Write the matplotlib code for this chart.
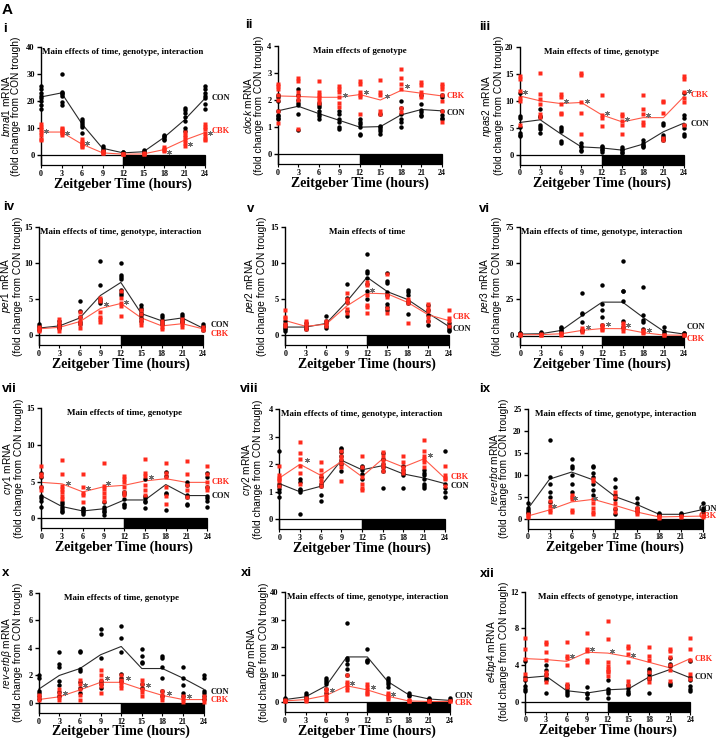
import matplotlib
matplotlib.use("Agg")
import matplotlib.pyplot as plt
from matplotlib.patches import Rectangle

plt.rcParams['mathtext.fontset'] = 'custom'
plt.rcParams['mathtext.rm'] = 'Liberation Sans'
plt.rcParams['mathtext.it'] = 'Liberation Sans:italic'

ZT = [0, 3, 6, 9, 12, 15, 18, 21, 24]
XLABEL = "Zeitgeber Time (hours)"

# ---------------- data ----------------
BMAL1_CON = [[25.5, 24.5, 23, 22, 21, 20, 18.5, 17], [30, 23.5, 23, 22.5, 22, 19.5, 18.5],
             [13.5, 12.5, 12, 11, 10.5, 8], [3.5, 2.5, 2, 1.5, 1.2], [1.2, 1, 0.8, 0.6],
             [1.8, 1.4, 1.1, 0.9], [7.5, 7, 6.5, 6, 5.5], [17.5, 16.5, 15.5, 14, 12.5, 10, 9],
             [25.5, 24.5, 23, 22, 21, 19, 17]]
BMAL1_CBK = [[11.5, 10.5, 9.5, 8.5, 7.5, 6, 5.5], [10, 9.5, 9, 8.5, 8, 7.5], [6, 5, 4.5, 4, 3.5, 3],
             [1.5, 1.1, 0.8, 0.6], [0.5, 0.3, 0.2], [0.6, 0.4, 0.3], [2.8, 2.2, 1.8, 1.5],
             [8.5, 7.5, 6.5, 5.5, 4.5, 3.5], [11.5, 10.5, 9.5, 8, 7, 6, 5.5]]
BMAL1_CON_MEAN = [21.5, 23, 11.5, 2.5, 0.8, 1.2, 6.5, 13, 21]
BMAL1_CBK_MEAN = [8.5, 8.5, 4, 0.8, 0.3, 0.4, 2, 5.5, 8.3]
BMAL1_SIG = ([0.7, 3.8, 6.8, 18.8, 21.8, 24.7], [8.8, 8.2, 4.3, 1.2, 4.2, 8.0])

CLOCK_CON = [[2.2, 2.1, 1.95, 1.6, 1.45, 1.4, 1.35, 1.3], [2.4, 2.2, 2.0, 1.9, 1.8, 1.5, 0.9],
             [1.9, 1.8, 1.75, 1.6, 1.5, 1.4, 1.3], [1.6, 1.5, 1.3, 1.2, 1.0, 0.95],
             [1.3, 1.2, 1.1, 1.0, 0.75, 0.7], [1.5, 1.05, 1.0, 0.95, 0.85, 0.75],
             [1.95, 1.7, 1.5, 1.3, 1.2, 1.0], [2.2, 1.85, 1.65, 1.55, 1.45, 1.4],
             [2.2, 2.1, 1.6, 1.45, 1.35, 1.3]]
CLOCK_CBK = [[2.6, 2.5, 2.4, 2.2, 2.0, 1.6, 1.15], [2.8, 2.7, 2.3, 2.15, 2.0, 0.95],
             [2.7, 2.3, 2.2, 2.1, 2.0, 1.9], [2.5, 2.4, 2.3, 2.1, 1.9, 1.75],
             [2.7, 2.6, 2.3, 2.2, 2.1, 1.5], [2.75, 2.3, 2.2, 1.6, 1.5],
             [3.15, 2.8, 2.6, 2.4, 1.7, 1.55], [2.65, 2.55, 2.3, 2.2, 2.1],
             [2.6, 2.5, 2.4, 2.2, 1.95, 1.6, 1.2]]
CLOCK_CON_MEAN = [1.6, 1.77, 1.5, 1.25, 1.0, 1.02, 1.45, 1.65, 1.6]
CLOCK_CBK_MEAN = [2.15, 2.13, 2.1, 2.1, 2.2, 2.0, 2.35, 2.25, 2.15]
CLOCK_SIG = ([9.9, 12.9, 15.9, 18.9], [2.2, 2.3, 2.15, 2.5])

NPAS2_CON = [[11.5, 7.2, 6.8, 5.2, 4.0, 3.7, 3.5], [8.5, 7.2, 7.0, 5.5, 5.2, 4.8, 4.0],
             [5.2, 4.8, 4.5, 2.5, 2.3], [2.2, 1.7, 1.5, 1.0, 0.8], [1.7, 1.5, 1.2, 0.9, 0.6],
             [1.5, 1.2, 0.9, 0.6, 0.4], [2.7, 2.2, 1.9, 1.6, 1.4], [5.9, 5.5, 3.7, 3.4, 3.0, 2.8],
             [11.5, 7.3, 6.8, 5.5, 5.0, 3.9, 3.5]]
NPAS2_CBK = [[14.5, 14, 11.8, 10.5, 10, 5.5], [15.2, 11.3, 10.3, 9.5, 7.5, 7],
             [11.3, 10.8, 9.5, 7.8, 7.5], [15.2, 14.8, 9.7, 7.8, 3.8], [11, 7.4, 6.8, 5.3],
             [7.6, 7.2, 6.2, 5.6, 3.9], [11, 8.5, 7.5, 6.1, 5.5], [10, 9.7, 7.8, 3.2, 2.8],
             [14.5, 14, 11.7, 10.5, 9.8, 5.5]]
NPAS2_CON_MEAN = [6.0, 6.5, 3.9, 1.5, 1.3, 0.9, 2.0, 4.3, 5.9]
NPAS2_CBK_MEAN = [10.9, 10.0, 9.5, 9.7, 7.4, 6.1, 6.9, 6.9, 10.8]
NPAS2_SIG = ([0.8, 6.8, 9.8, 12.7, 15.7, 18.8, 24.7], [11.6, 10.0, 10.0, 7.8, 6.6, 7.3, 11.9])

PER1_CON = [[1.5, 1.3, 1.1, 0.9, 0.7], [2.0, 1.6, 1.4, 1.2, 1.0], [4.8, 3.4, 2.5, 1.9, 1.5],
            [10.2, 6.9, 5.0, 4.7, 4.5], [10.0, 8.3, 8.0, 7.8, 6.2, 5.8, 5.5],
            [4.2, 3.8, 3.5, 3.1, 2.8, 2.4, 2.0], [2.8, 2.5, 2.1, 1.9, 1.6],
            [3.0, 2.6, 2.3, 2.0, 1.8], [1.5, 1.3, 1.1, 0.8]]
PER1_CBK = [[1.2, 1.0, 0.8, 0.6], [2.2, 1.8, 1.4, 1.0, 0.6], [3.2, 2.5, 2.0, 1.5, 1.0],
            [5.1, 4.7, 3.2, 2.5, 2.2, 1.9], [6.1, 5.2, 4.4, 4.0, 2.7], [3.5, 3.0, 2.2, 1.8, 1.4],
            [2.0, 1.6, 1.2, 0.9], [2.3, 1.9, 1.5, 1.1], [1.2, 0.9, 0.7]]
PER1_CON_MEAN = [1.0, 1.3, 2.4, 5.5, 7.3, 3.0, 2.0, 2.4, 1.0]
PER1_CBK_MEAN = [0.9, 1.1, 1.9, 3.7, 4.4, 2.4, 1.3, 1.6, 0.9]
PER1_SIG = ([9.8, 12.8], [4.3, 4.6])

PER2_CON = [[1.9, 1.5, 1.2, 1.0, 0.8, 0.6], [1.6, 1.3, 1.0, 0.8], [2.7, 2.0, 1.6, 1.3, 1.0],
            [7.0, 5.1, 4.6, 3.3, 2.6], [11.2, 8.8, 8.6, 7.9, 7.0, 6.1, 5.0],
            [8.6, 7.5, 7.2, 6.0, 5.6, 4.3, 3.9, 3.5], [6.2, 5.9, 5.6, 4.7, 4.4, 2.9],
            [4.1, 3.5, 2.8, 2.0, 1.4], [1.7, 1.3, 1.0, 0.7, 0.5]]
PER2_CBK = [[3.4, 2.5, 2.3, 1.5, 1.2], [2.0, 1.6, 1.2, 0.9], [1.9, 1.6, 1.3],
            [5.8, 5.0, 4.6, 3.6, 3.0], [7.3, 6.9, 5.6, 4.2, 3.9, 3.1], [8.5, 5.6, 5.2, 3.8, 3.0],
            [5.0, 4.7, 4.4, 1.7], [4.3, 3.7, 3.3, 2.5, 1.9], [3.4, 2.3, 1.9, 1.2]]
PER2_CON_MEAN = [1.1, 1.1, 1.6, 4.6, 8.0, 6.0, 4.9, 3.0, 1.2]
PER2_CBK_MEAN = [2.0, 1.2, 1.5, 4.0, 5.8, 5.7, 4.5, 2.8, 2.0]
PER2_SIG = ([12.8], [6.2])

PER3_CON = [[2.0, 1.5, 1.0, 0.7], [2.5, 2.0, 1.5], [6.0, 5.0, 4.0, 3.0, 2.0],
            [29, 15.5, 14.5, 9, 4, 3], [35, 21.5, 17.5, 13, 7], [51.5, 31, 30.5, 23.5, 10, 6],
            [33.5, 14, 10.5, 9.5, 4.5], [6, 3, 2], [2.0, 1.5, 1.0, 0.6]]
PER3_CBK = [[1.0, 0.6, 0.3], [1.0, 0.6, 0.3], [2.0, 1.2, 0.6], [5.5, 4.0, 2.5],
            [7.5, 6, 4.5, 3.5], [8.5, 7, 5, 3], [3.5, 2.5, 1.5], [0.5, 0.3], [0.3, 0.2]]
PER3_CON_MEAN = [1.0, 1.2, 3.5, 13.5, 23, 23, 12.5, 3.0, 1.0]
PER3_CBK_MEAN = [0.5, 0.6, 1.2, 3.5, 4.8, 4.7, 2.0, 0.3, 0.2]
PER3_SIG = ([9.9, 12.8, 15.8, 18.8], [5.8, 8.0, 7.5, 3.5])

CRY1_CON = [[6.2, 5.6, 4.3, 3.1, 2.8, 2.4, 1.5], [2.2, 1.9, 1.6, 1.3, 1.0, 0.8],
            [1.4, 1.2, 1.0, 0.8, 0.6], [2.2, 1.5, 1.2, 1.0, 0.8, 0.5],
            [3.6, 3.3, 2.6, 2.0, 1.8, 1.6], [5.3, 3.0, 2.7, 2.4, 2.2, 1.4],
            [6.3, 5.8, 3.5, 3.3, 1.1], [5.0, 4.5, 3.2, 2.9, 2.0, 1.8],
            [6.2, 5.6, 4.3, 3.0, 2.8, 2.3, 1.5]]
CRY1_CBK = [[7.1, 6.0, 5.8, 4.3, 3.8], [7.9, 6.0, 4.4, 4.0, 3.6, 3.1, 2.6],
            [6.0, 4.2, 3.5, 3.2, 2.2], [7.6, 4.4, 4.0, 3.4, 2.9, 2.4],
            [5.8, 5.4, 5.0, 4.2, 3.6, 3.2], [8.1, 6.2, 5.8, 4.5, 3.8, 3.2],
            [7.6, 6.2, 5.6, 4.2, 3.0, 2.0], [7.8, 6.0, 4.5, 3.9, 2.9], [7.1, 6.0, 5.0, 4.3, 3.8]]
CRY1_CON_MEAN = [3.1, 1.6, 1.0, 1.3, 2.5, 2.5, 4.6, 3.1, 3.1]
CRY1_CBK_MEAN = [4.9, 4.7, 3.6, 4.3, 4.5, 5.1, 5.4, 4.9, 4.9]
CRY1_SIG = ([3.8, 6.7, 9.6, 15.8], [4.8, 4.1, 4.8, 5.7])

CRY2_CON = [[2.5, 1.3, 1.2, 1.1, 1.0, 0.8], [1.45, 1.35, 1.1, 1.05, 1.0, 0.2],
            [1.55, 1.3, 1.2, 0.9, 0.65], [2.6, 2.55, 2.45, 2.3, 2.15, 2.0, 1.75],
            [1.95, 1.9, 1.8, 1.65, 1.45], [2.4, 2.2, 2.0, 1.9, 1.75, 1.15],
            [1.95, 1.8, 1.7, 1.6, 1.15], [1.8, 1.7, 1.6, 1.45, 1.3, 1.2, 1.15],
            [2.5, 1.3, 1.15, 1.0, 0.8]]
CRY2_CBK = [[1.95, 1.6, 1.5, 1.45, 1.4, 1.2], [2.8, 2.4, 2.2, 1.95, 1.7, 1.3],
            [2.1, 1.8, 1.6, 1.45, 1.35, 1.2], [2.5, 2.3, 2.2, 2.05, 1.9, 1.4],
            [2.3, 1.9, 1.55, 1.3, 1.15, 1.05], [2.45, 2.3, 2.15, 2.0, 1.9, 1.75],
            [2.3, 2.1, 1.9, 1.8, 1.7], [2.9, 2.5, 2.3, 2.2, 2.1, 1.9], [1.95, 1.6, 1.5, 1.45, 1.2]]
CRY2_CON_MEAN = [1.3, 1.0, 1.2, 2.15, 1.8, 1.95, 1.65, 1.5, 1.3]
CRY2_CBK_MEAN = [1.5, 2.0, 1.6, 2.1, 1.55, 2.2, 1.9, 2.2, 1.5]
CRY2_SIG = ([4.0, 21.9], [2.15, 2.35])

REVA_CON = [[3.5, 2.5, 2.0, 1.5, 1.2], [17.8, 9.5, 8.0, 6.0, 5.0, 3.8],
            [13.5, 12.0, 11.5, 10.0, 7.8, 6.0], [12.0, 11.8, 10.5, 9.5, 8.0, 6.5, 5.5],
            [9.0, 7.2, 5.5, 4.5, 2.2, 1.0], [4.8, 3.5, 2.5, 1.8], [1.2, 1.0, 0.8],
            [1.2, 1.0, 0.8], [3.5, 2.5, 2.0, 1.5]]
REVA_CBK = [[1.0, 0.6, 0.3], [4.0, 3.0, 2.0, 1.5], [5.5, 5.0, 4.5, 2.0, 1.5],
            [9.0, 8.5, 4.5, 3.5, 2.5, 1.5, 1.0], [6.0, 5.0, 3.5, 2.5, 1.5], [2.5, 2.0, 1.5, 1.0],
            [0.6, 0.4, 0.2], [0.6, 0.4], [0.8, 0.5]]
REVA_CON_MEAN = [2.2, 9.0, 10.6, 8.8, 5.0, 3.2, 1.0, 1.0, 2.1]
REVA_CBK_MEAN = [0.6, 2.0, 3.8, 4.4, 3.0, 1.5, 0.4, 0.5, 0.6]
REVA_SIG = ([3.6, 6.5, 9.2], [3.0, 4.7, 4.7])

REVB_CON = [[2.0, 1.8, 0.9, 0.7, 0.5, 0.3], [3.7, 2.8, 2.6, 1.6, 1.3, 0.8, 0.5],
            [3.8, 3.7, 2.5, 2.3, 1.5, 1.1, 0.7], [5.4, 5.0, 3.3, 1.6, 1.4, 1.1],
            [5.6, 4.7, 3.7, 2.1, 1.8, 1.6], [3.9, 3.4, 3.0, 2.9, 1.4, 1.1],
            [3.4, 3.3, 2.6, 1.8, 0.9, 0.5], [2.6, 1.8, 1.3, 0.7, 0.5],
            [2.0, 1.8, 0.9, 0.7, 0.5, 0.3]]
REVB_CBK = [[0.6, 0.4, 0.2], [1.0, 0.7, 0.4, 0.2], [1.7, 1.4, 1.0, 0.6, 0.2],
            [2.4, 2.0, 1.7, 1.4, 1.2, 0.7], [2.0, 1.7, 1.5, 1.3, 1.1], [1.7, 1.4, 1.0, 0.8, 0.5],
            [0.9, 0.6, 0.4, 0.2], [0.5, 0.3, 0.1], [0.5, 0.3, 0.1]]
REVB_CON_MEAN = [1.0, 2.0, 2.5, 3.5, 4.1, 2.5, 2.5, 1.8, 1.0]
REVB_CBK_MEAN = [0.25, 0.45, 0.95, 1.5, 1.5, 1.0, 0.55, 0.25, 0.25]
REVB_SIG = ([3.8, 6.8, 9.9, 13.0, 15.9, 19.0, 21.9], [0.75, 1.3, 1.8, 1.8, 1.3, 0.75, 0.5])

DBP_CON = [[1.5, 1.2, 0.9, 0.6], [3.5, 2.5, 1.8, 1.2], [8.8, 8.0, 7.5, 6.5, 5.0, 3.5],
           [29, 16, 15.5, 14, 12, 10], [19.5, 15.5, 15, 14.5], [8.8, 8.0, 7.5, 6.5, 5.5],
           [3.5, 2.8, 2.3], [1.5, 1.2, 0.8], [1.5, 1.0, 0.7]]
DBP_CBK = [[0.8, 0.5, 0.3], [1.5, 1.0, 0.6], [5.0, 4.0, 2.5, 1.5, 0.8], [10, 7.5, 6.5, 5.5, 4.5],
           [6.5, 5.5, 4.5, 3.5, 3.0], [3.5, 2.5, 1.8, 1.3], [0.8, 0.5, 0.3], [0.4, 0.3], [0.4, 0.3]]
DBP_CON_MEAN = [1.0, 2.0, 6.0, 16.5, 16.5, 7.5, 2.8, 1.2, 0.7]
DBP_CBK_MEAN = [0.5, 1.0, 2.5, 6.0, 4.5, 2.2, 0.5, 0.3, 0.3]
DBP_SIG = ([6.8, 9.8, 12.8, 15.8], [4.4, 7.0, 5.6, 3.0])

E4BP4_CON = [[4.4, 2.7, 2.4, 1.7, 1.4, 1.2], [4.0, 3.5, 3.0, 2.6, 2.4, 0.9],
             [1.8, 1.5, 1.2, 0.9, 0.7], [1.6, 1.0, 0.8, 0.4], [2.4, 1.4, 1.2, 1.0, 0.4],
             [1.8, 1.5, 1.2, 1.0, 0.8], [3.6, 3.4, 3.0, 2.7, 2.5, 1.0],
             [4.8, 4.1, 3.9, 2.0, 1.8], [4.4, 2.7, 2.4, 1.7, 1.4, 1.2]]
E4BP4_CBK = [[6.9, 5.8, 4.7, 3.0, 2.5], [6.5, 6.3, 5.4, 4.6, 3.2, 2.9, 2.1],
             [6.5, 5.0, 4.8, 4.0, 1.9, 1.6], [7.5, 5.8, 5.5, 4.6, 4.3],
             [8.8, 6.8, 4.3, 3.9, 3.6, 3.4, 3.2, 2.8], [6.1, 5.9, 5.2, 4.3, 2.3, 1.8],
             [6.0, 5.0, 4.6, 3.2, 2.6, 2.2], [5.8, 5.5, 4.9, 4.0, 3.5, 2.3],
             [6.9, 5.8, 4.6, 3.0, 2.5]]
E4BP4_CON_MEAN = [2.6, 2.8, 1.2, 0.95, 1.3, 1.4, 2.7, 3.5, 2.6]
E4BP4_CBK_MEAN = [4.7, 4.6, 4.4, 5.4, 5.3, 4.9, 4.3, 3.7, 4.7]
E4BP4_SIG = ([6.75, 9.7, 12.6, 15.6], [5.0, 5.7, 5.5, 5.1])

# panel meta: numeral, gene label (mathtext), title, y ticks, CON label y, CBK label y, label x
PANELS = [
    ("i", r"$\mathit{bmal1}$ mRNA", "Main effects of time, genotype, interaction", [0, 10, 20, 30, 40],
     BMAL1_CON, BMAL1_CBK, BMAL1_CON_MEAN, BMAL1_CBK_MEAN, BMAL1_SIG, 21.2, 9.0, 24.9),
    ("ii", r"$\mathit{clock}$ mRNA", "Main effects of genotype", [0, 1, 2, 3, 4],
     CLOCK_CON, CLOCK_CBK, CLOCK_CON_MEAN, CLOCK_CBK_MEAN, CLOCK_SIG, 1.51, 2.16, 24.7),
    ("iii", r"$\mathit{npas2}$ mRNA", "Main effects of time, genotype", [0, 5, 10, 15, 20],
     NPAS2_CON, NPAS2_CBK, NPAS2_CON_MEAN, NPAS2_CBK_MEAN, NPAS2_SIG, 5.7, 11.0, 24.9),
    ("iv", r"$\mathit{per1}$ mRNA", "Main effects of time, genotype, interaction", [0, 5, 10, 15],
     PER1_CON, PER1_CBK, PER1_CON_MEAN, PER1_CBK_MEAN, PER1_SIG, 1.47, 0.23, 25.1),
    ("v", r"$\mathit{per2}$ mRNA", "Main effects of time", [0, 5, 10, 15],
     PER2_CON, PER2_CBK, PER2_CON_MEAN, PER2_CBK_MEAN, PER2_SIG, 0.8, 2.45, 24.6),
    ("vi", r"$\mathit{per3}$ mRNA", "Main effects of time, genotype, interaction", [0, 25, 50, 75],
     PER3_CON, PER3_CBK, PER3_CON_MEAN, PER3_CBK_MEAN, PER3_SIG, 6.2, -2.3, 24.4),
    ("vii", r"$\mathit{cry1}$ mRNA", "Main effects of time, genotype", [0, 5, 10, 15],
     CRY1_CON, CRY1_CBK, CRY1_CON_MEAN, CRY1_CBK_MEAN, CRY1_SIG, 3.1, 4.9, 24.6),
    ("viii", r"$\mathit{cry2}$ mRNA", "Main effects of time, genotype, interaction", [0, 1, 2, 3, 4],
     CRY2_CON, CRY2_CBK, CRY2_CON_MEAN, CRY2_CBK_MEAN, CRY2_SIG, 1.21, 1.55, 24.8),
    ("ix", r"$\mathit{rev}$-$\mathit{erbα}$ mRNA", "Main effects of time, genotype, interaction",
     [0, 5, 10, 15, 20, 25],
     REVA_CON, REVA_CBK, REVA_CON_MEAN, REVA_CBK_MEAN, REVA_SIG, 2.1, 0.5, 23.4),
    ("x", r"$\mathit{rev}$-$\mathit{erbβ}$ mRNA", "Main effects of time, genotype", [0, 2, 4, 6, 8],
     REVB_CON, REVB_CBK, REVB_CON_MEAN, REVB_CBK_MEAN, REVB_SIG, 0.82, 0.19, 25.0),
    ("xi", r"$\mathit{dbp}$ mRNA", "Main effects of time, genotype, interaction", [0, 10, 20, 30, 40],
     DBP_CON, DBP_CBK, DBP_CON_MEAN, DBP_CBK_MEAN, DBP_SIG, 2.4, -0.2, 24.7),
    ("xii", r"$\mathit{e4bp4}$ mRNA", "Main effects of genotype, interaction", [0, 4, 8, 12],
     E4BP4_CON, E4BP4_CBK, E4BP4_CON_MEAN, E4BP4_CBK_MEAN, E4BP4_SIG, 2.65, 4.7, 24.6),
]

# light / dark phases
LD_PHASES = [(0, 12, "white"), (12, 24, "black")]

# ---------------- layout (pixels) ----------------
W, H = 716, 739
# left, top, right, zero-line y, bottom, ylabel offset, numeral x, numeral y
LAYOUT = [
    (41, 47, 205, 155, 165, 30.5, 3, 29),
    (277.7, 45.7, 442, 154.3, 164, 25, 245, 25),
    (519.7, 46.7, 684, 155, 164.5, 28, 479, 27.5),
    (39, 226.7, 202.7, 335.3, 345, 28.2, 3, 207),
    (285.3, 226.7, 448.7, 335, 345, 30.5, 247, 208.5),
    (520.3, 226.7, 684, 335.5, 345, 30.5, 479, 208.5),
    (41.3, 408.3, 207.3, 518.3, 528, 28.8, 2, 389),
    (279.3, 409.3, 444.7, 519.3, 529, 27.8, 240, 389),
    (527.7, 408.7, 703, 518.7, 528.5, 29.2, 479, 389),
    (38.7, 592.7, 203.7, 703, 712.7, 27.3, 2, 573),
    (285, 592.3, 449.7, 702.3, 712, 28.2, 241, 573.5),
    (525.3, 591.7, 690.3, 701.7, 711.5, 28.5, 480, 574),
]

SERIF = "Liberation Serif"
SANS = "Liberation Sans"
RED = "#FF2A1C"
RED_LINE = "#FF5A48"

fig = plt.figure(figsize=(W / 100, H / 100), dpi=100)
fig.text(2 / W, 1 - 10 / H, "A", fontsize=11, fontweight="bold", family=SANS, va="center", ha="left")

for p, lay in zip(PANELS, LAYOUT):
    (num, glabel, title, yticks, con, cbk, con_m, cbk_m, sig, con_ly, cbk_ly, lab_x) = p
    L, T, R, Y0, B, yoff, nx, ny = lay
    ax = fig.add_axes([L / W, 1 - B / H, (R - L) / W, (B - T) / H])
    ymax = yticks[-1]
    ybot = -ymax * (B - Y0) / (Y0 - T)
    ax.set_xlim(0, 24)
    ax.set_ylim(ybot, ymax)

    for s in ("top", "right", "bottom"):
        ax.spines[s].set_visible(False)
    ax.spines["left"].set_linewidth(1.0)

    # light/dark bar
    for (s0, s1, c) in LD_PHASES:
        ax.add_patch(Rectangle((s0, ybot), s1 - s0, -ybot, facecolor=c, edgecolor="black",
                               lw=0.9, clip_on=False, zorder=1))

    # mean lines
    ax.plot(ZT, con_m, color="#2a2a2a", lw=0.8, zorder=2, clip_on=False)
    ax.plot(ZT, cbk_m, color=RED_LINE, lw=0.8, zorder=2, clip_on=False)

    # individual points
    cx = [t for t, vals in zip(ZT, con) for _ in vals]
    cy = [v for vals in con for v in vals]
    rx = [t for t, vals in zip(ZT, cbk) for _ in vals]
    ry = [v for vals in cbk for v in vals]
    ax.plot(cx, cy, ls="none", marker="o", ms=3.2, color="black", mec="none", zorder=3, clip_on=False)
    ax.plot(rx, ry, ls="none", marker="s", ms=3.2, color=RED, mec="none", zorder=4, clip_on=False)

    # significance asterisks
    ax.plot(sig[0], sig[1], ls="none", marker=(6, 2, 0), ms=3.6, mew=0.55, color="#6a6a6a",
            zorder=5, clip_on=False)

    # group labels
    ax.text(lab_x, con_ly, "CON", color="#111111", fontsize=6, family=SERIF, fontweight="bold",
            va="center", ha="left", clip_on=False)
    ax.text(lab_x, cbk_ly, "CBK", color=RED, fontsize=6, family=SERIF, fontweight="bold",
            va="center", ha="left", clip_on=False)

    # title
    ax.annotate(title, xy=(0.5, 1), xycoords="axes fraction", xytext=(0, -3.6),
                textcoords="offset points", ha="center", va="center", fontsize=6.5,
                family=SERIF, fontweight="bold")

    # ticks
    ax.set_xticks(ZT)
    ax.set_xticklabels([str(t) for t in ZT])
    ax.set_yticks(yticks)
    ax.set_yticklabels([str(t) for t in yticks])
    ax.tick_params(axis="x", length=2, width=0.8, pad=1.5, labelsize=5.8)
    ax.tick_params(axis="y", length=3, width=1.0, pad=1.5, labelsize=6)
    for lbl in ax.get_xticklabels() + ax.get_yticklabels():
        lbl.set_family(SERIF)
        lbl.set_fontweight("bold")

    # axis labels
    hpx = B - T
    wpx = R - L
    ax.set_xlabel(XLABEL, fontsize=10, family=SERIF, fontweight="bold")
    ax.xaxis.set_label_coords(0.5, -19 / hpx)
    ax.xaxis.label.set_va("center")
    ax.set_ylabel(glabel + "\n(fold change from CON trough)", fontsize=7.3, family=SANS,
                  linespacing=0.95)
    ax.yaxis.set_label_coords(-yoff / wpx, 0.5)
    ax.yaxis.label.set_va("center")

    fig.text(nx / W, 1 - ny / H, num, fontsize=9.5, fontweight="bold", family=SANS,
             va="center", ha="left")

fig.savefig("out.png", dpi=100)
